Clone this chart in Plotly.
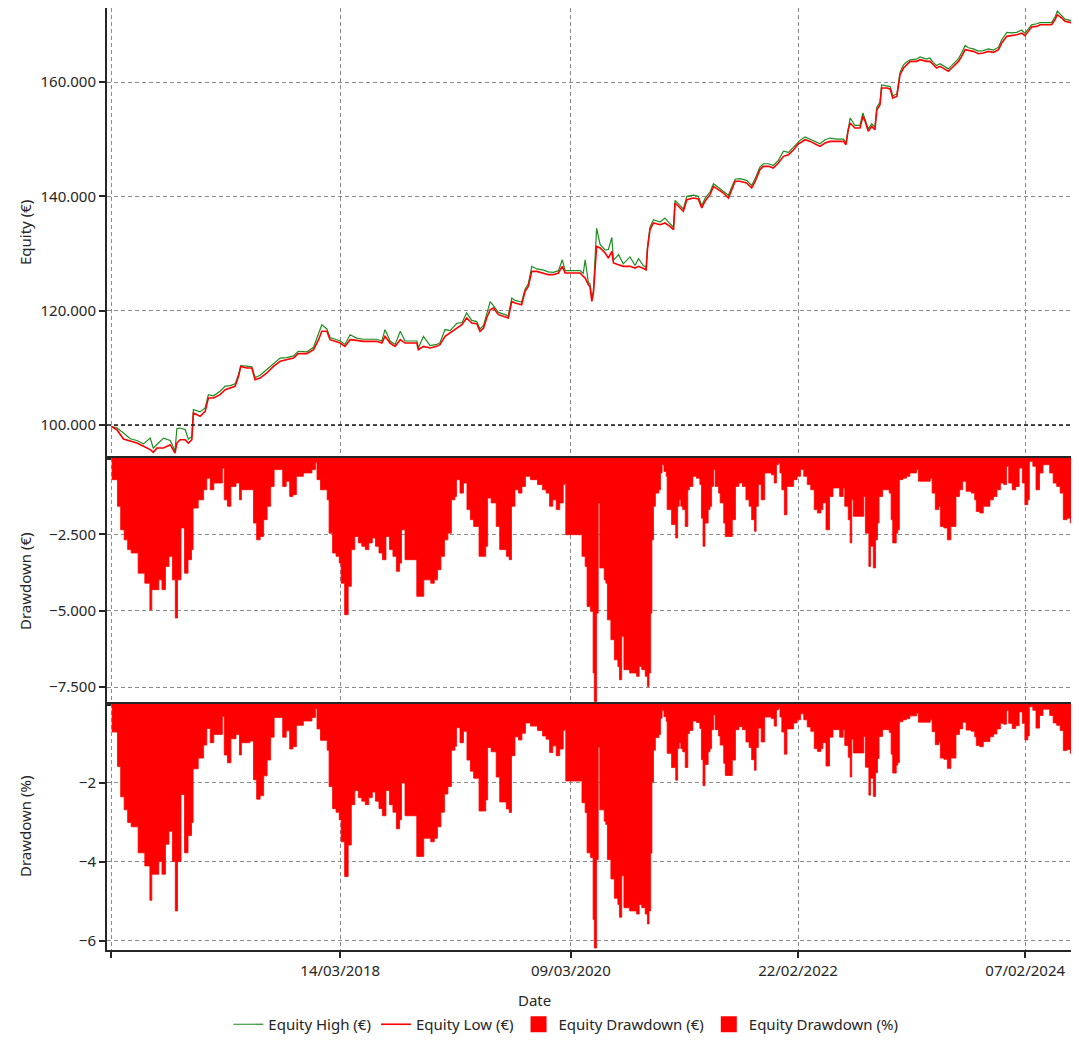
import pandas as pd
import plotly.graph_objects as go
from plotly.subplots import make_subplots

# data (days counted from the first day of the backtest)
start = pd.Timestamp("2016-03-23")

eq_days = [0, 18, 39, 60, 81, 102, 123, 133, 144, 165,
           186, 201, 207, 217, 233, 243, 254, 259, 280, 296,
           306, 322, 343, 359, 375, 390, 401, 408, 427, 443,
           453, 469, 490, 511, 532, 553, 574, 589, 616, 637,
           653, 663, 679, 689, 705, 721, 736, 752, 773, 794,
           815, 836, 852, 862, 878, 894, 910, 925, 962, 967,
           983, 1004, 1025, 1035, 1051, 1067, 1088, 1104, 1119, 1135,
           1151, 1161, 1172, 1182, 1193, 1203, 1219, 1235, 1250, 1261,
           1271, 1292, 1303, 1313, 1324, 1340, 1361, 1376, 1392, 1408,
           1420, 1429, 1455, 1476, 1486, 1492, 1502, 1507, 1513, 1518,
           1528, 1539, 1555, 1565, 1576, 1581, 1597, 1612, 1633, 1649,
           1660, 1675, 1684, 1688, 1696, 1707, 1728, 1743, 1759, 1770,
           1775, 1791, 1801, 1812, 1833, 1848, 1859, 1869, 1885, 1896,
           1911, 1927, 1943, 1953, 1964, 1979, 2000, 2016, 2027, 2042,
           2053, 2069, 2084, 2100, 2116, 2132, 2148, 2163, 2168, 2184,
           2200, 2221, 2231, 2247, 2263, 2284, 2305, 2313, 2320, 2326,
           2341, 2357, 2366, 2373, 2383, 2394, 2404, 2410, 2420, 2425,
           2441, 2452, 2460, 2473, 2483, 2494, 2504, 2515, 2535, 2546,
           2567, 2577, 2588, 2598, 2609, 2625, 2635, 2646, 2656, 2667,
           2677, 2688, 2698, 2714, 2730, 2745, 2761, 2777, 2793, 2803,
           2819, 2834, 2850, 2866, 2876, 2887, 2897, 2913, 2924, 2945,
           2960, 2971, 2978, 2992, 3002, 3018, 3034]

equity_low = [99770, 99180, 97550, 97140, 96850, 96270, 95690, 95220, 95980, 95980,
              96560, 95100, 96850, 97430, 97430, 96850, 97430, 102100, 101520, 102390,
              104720, 104720, 105310, 106180, 106470, 106760, 108510, 110260, 109970, 109970,
              107930, 108220, 109100, 110260, 111140, 111430, 111720, 112480, 112480, 113180,
              114930, 116390, 116390, 114930, 114640, 114340, 113760, 114930, 114810, 114640,
              114640, 114640, 114340, 115510, 114340, 113760, 114930, 114340, 114340, 113180,
              113760, 113470, 113760, 114050, 115510, 116090, 116970, 117550, 118720, 117840,
              117730, 116390, 116970, 118720, 120170, 120470, 119300, 119010, 118720, 121630,
              121340, 121050, 123380, 124260, 126880, 126880, 126590, 126300, 126300, 126590,
              127760, 126590, 126590, 126590, 126010, 125710, 124550, 124260, 121630, 123090,
              131250, 130960, 130090, 129210, 130380, 128340, 128050, 127760, 127760, 127460,
              127760, 127460, 127170, 130670, 134170, 135340, 135040, 135340, 134750, 134170,
              138830, 137960, 137380, 139420, 139710, 139530, 137960, 139130, 140290, 141750,
              141170, 140580, 139710, 141170, 142630, 142630, 142330, 141460, 142630, 144670,
              145250, 145250, 144960, 145830, 147000, 147290, 148160, 149210, 149330, 149910,
              149620, 149040, 148750, 149330, 149620, 149620, 149620, 149040, 151660, 152830,
              151950, 151950, 154000, 153120, 151370, 152250, 151660, 155160, 156040, 158950,
              158950, 158780, 157200, 157490, 161280, 162450, 163030, 163610, 163610, 163910,
              163610, 163610, 163030, 162450, 162740, 162160, 161870, 162450, 163030, 163610,
              164490, 165660, 165540, 165360, 164960, 165070, 165360, 165190, 165660, 166820,
              167990, 168100, 168280, 168570, 168100, 168860, 169620, 169740, 170030, 170030,
              170030, 170900, 171780, 171200, 170620, 170440, 170030]

equity_high = [99770, 99500, 98600, 97600, 97300, 96700, 97700, 95900, 96600, 97700,
               97300, 95500, 99400, 99470, 99200, 97500, 98000, 102700, 102300, 103000,
               105300, 105100, 105900, 106800, 106900, 107200, 108800, 110400, 110300, 110200,
               108300, 108700, 109700, 110700, 111700, 111800, 112100, 112900, 112800, 113600,
               116100, 117550, 116800, 115300, 115000, 114700, 114100, 115800, 115200, 115000,
               115000, 115000, 114700, 116700, 114700, 114100, 116400, 114700, 114700, 113500,
               115500, 113900, 114100, 114400, 116700, 116500, 117800, 117900, 119600, 118300,
               118100, 116800, 117400, 119200, 121600, 120900, 119700, 119400, 119100, 122200,
               121800, 121500, 123800, 124700, 127750, 127300, 127100, 126800, 126700, 127000,
               128900, 127000, 127000, 127000, 126500, 128900, 125000, 124700, 122100, 123500,
               134400, 131600, 130600, 130700, 132800, 128800, 129800, 128200, 129400, 127900,
               129100, 127900, 127600, 131100, 134600, 135900, 135500, 136200, 135200, 134600,
               139300, 138400, 137800, 140000, 140200, 140000, 138400, 139600, 140800, 142200,
               141600, 141000, 140200, 141600, 143000, 143100, 142800, 141900, 143100, 145100,
               145700, 145700, 145400, 146300, 147900, 147700, 148600, 149600, 149800, 150400,
               150000, 149500, 149200, 149900, 150200, 150000, 150000, 149400, 152100, 153700,
               152400, 152400, 154600, 153500, 151800, 152700, 152100, 155600, 156500, 159500,
               159400, 159200, 157600, 157900, 161700, 163000, 163500, 163900, 164000, 164400,
               164000, 164200, 163400, 162900, 163200, 162600, 162300, 162900, 163500, 164100,
               165100, 166400, 166000, 165800, 165400, 165500, 165800, 165600, 166100, 167400,
               168700, 168600, 168700, 169100, 168500, 169300, 170000, 170200, 170400, 170400,
               170400, 171400, 172400, 171600, 171000, 170800, 170300]

dd_days = [0, 3, 20, 30, 41, 52, 63, 85, 106, 122,
           128, 150, 160, 171, 182, 193, 202, 209, 220, 231,
           242, 253, 258, 274, 291, 301, 312, 323, 339, 350,
           356, 366, 377, 393, 404, 410, 437, 448, 458, 469,
           480, 491, 502, 513, 534, 540, 551, 562, 572, 583,
           605, 621, 632, 643, 648, 659, 680, 686, 697, 708,
           718, 724, 735, 746, 756, 767, 778, 789, 800, 811,
           822, 832, 843, 854, 865, 876, 887, 898, 908, 914,
           925, 952, 962, 973, 984, 1006, 1017, 1027, 1038, 1049,
           1060, 1071, 1082, 1087, 1098, 1109, 1120, 1131, 1141, 1158,
           1179, 1185, 1196, 1212, 1223, 1244, 1253, 1260, 1271, 1282,
           1293, 1304, 1320, 1342, 1358, 1369, 1380, 1390, 1401, 1412,
           1423, 1428, 1431, 1478, 1482, 1492, 1498, 1509, 1517, 1521,
           1528, 1533, 1538, 1546, 1552, 1557, 1562, 1573, 1584, 1595,
           1600, 1607, 1614, 1632, 1654, 1662, 1670, 1681, 1688, 1693,
           1698, 1702, 1707, 1713, 1724, 1729, 1734, 1740, 1747, 1750,
           1758, 1764, 1772, 1777, 1783, 1788, 1793, 1799, 1807, 1815,
           1820, 1831, 1842, 1853, 1858, 1863, 1869, 1879, 1885, 1890,
           1896, 1901, 1912, 1917, 1928, 1933, 1944, 1955, 1965, 1976,
           1987, 1998, 2008, 2016, 2025, 2030, 2037, 2046, 2057, 2078,
           2087, 2094, 2100, 2105, 2111, 2119, 2127, 2148, 2159, 2170,
           2180, 2191, 2202, 2213, 2223, 2234, 2240, 2250, 2261, 2272,
           2283, 2293, 2304, 2309, 2320, 2326, 2331, 2336, 2363, 2369,
           2374, 2385, 2390, 2399, 2406, 2412, 2417, 2428, 2449, 2455,
           2460, 2471, 2476, 2481, 2492, 2503, 2514, 2524, 2535, 2541,
           2578, 2584, 2594, 2605, 2610, 2621, 2632, 2643, 2653, 2659,
           2670, 2680, 2691, 2707, 2718, 2723, 2734, 2745, 2756, 2766,
           2777, 2788, 2799, 2809, 2818, 2825, 2836, 2847, 2858, 2868,
           2876, 2885, 2890, 2901, 2911, 2922, 2933, 2944, 2954, 2965,
           2976, 2987, 2997, 3008, 3019, 3030]

drawdown_eur = [0, -710, -1580, -2350, -2680, -3000, -3110, -3770, -4100, -4970,
                -4310, -3990, -4310, -3550, -3220, -3990, -5240, -3990, -2290, -3770,
                -3330, -3000, -1640, -1370, -1040, -660, -1040, -820, -820, -330,
                -1370, -1580, -930, -820, -1370, -1040, -1040, -2130, -2680, -2570,
                -2020, -1580, -930, -380, -380, -930, -760, -1260, -1200, -600,
                -490, -490, -380, -140, -710, -1040, -1370, -2460, -3110, -3220,
                -3440, -4100, -5130, -4200, -3000, -2570, -2780, -2890, -3000, -2780,
                -2620, -2890, -3110, -3330, -2570, -3000, -3220, -3710, -3440, -2350,
                -3330, -3330, -4530, -4530, -3990, -4100, -3990, -3660, -3220, -2680,
                -2460, -1370, -1260, -710, -1150, -820, -1690, -2020, -2240, -3220,
                -2890, -1310, -1470, -2240, -3000, -3220, -3330, -1580, -1040, -1150,
                -930, -600, -710, -870, -1040, -1150, -1580, -1370, -1690, -1470,
                -870, -820, -2510, -2510, -3220, -3550, -4860, -5020, -7040, -7970,
                -5080, -1470, -3600, -3600, -3990, -4100, -5300, -5950, -6610, -6830,
                -7260, -5840, -6930, -7040, -7150, -6830, -6930, -7150, -7480, -7040,
                -5080, -2680, -1580, -1150, -1040, -490, -220, -440, -600, -1690,
                -1690, -2180, -2180, -2620, -1580, -1370, -1580, -1690, -2240, -1040,
                -930, -600, -660, -870, -1970, -2890, -2130, -1690, -1580, -930,
                -380, -930, -1150, -1470, -2130, -2570, -2570, -2020, -930, -820,
                -930, -1370, -1580, -2020, -2400, -1580, -870, -1370, -490, -550,
                -820, -220, -160, -490, -1040, -1860, -930, -710, -600, -380,
                -600, -870, -1040, -1690, -1800, -1690, -1470, -2350, -1260, -980,
                -980, -1260, -980, -1580, -2020, -2780, -1370, -1910, -1910, -1260,
                -2460, -3550, -2890, -3600, -2680, -2130, -1260, -1040, -1150, -2020,
                -2780, -2460, -2350, -710, -660, -600, -490, -490, -380, -760,
                -660, -1150, -1690, -1580, -2240, -2290, -2680, -2240, -2240, -1260,
                -1040, -760, -1090, -1150, -1370, -1750, -1800, -1580, -1580, -1370,
                -1260, -1040, -820, -870, -270, -820, -1040, -930, -330, -820,
                -1530, -1370, -110, -270, -1040, -490, -220, -220, -490, -820,
                -930, -1150, -2020, -1970, -2130, -2620]

drawdown_pct = [0, -0.71, -1.58, -2.35, -2.68, -3.00, -3.11, -3.77, -4.10, -4.97,
                -4.31, -3.99, -4.31, -3.55, -3.22, -3.99, -5.24, -3.99, -2.29, -3.77,
                -3.33, -3.00, -1.64, -1.37, -1.04, -0.62, -0.98, -0.77, -0.77, -0.31,
                -1.29, -1.49, -0.88, -0.77, -1.29, -0.98, -0.94, -1.92, -2.41, -2.32,
                -1.82, -1.42, -0.84, -0.34, -0.34, -0.84, -0.68, -1.14, -1.08, -0.54,
                -0.43, -0.43, -0.34, -0.12, -0.63, -0.92, -1.17, -2.09, -2.65, -2.74,
                -2.93, -3.49, -4.37, -3.57, -2.55, -2.19, -2.37, -2.46, -2.55, -2.37,
                -2.23, -2.46, -2.65, -2.83, -2.19, -2.55, -2.74, -3.16, -2.93, -2.00,
                -2.83, -2.83, -3.86, -3.86, -3.40, -3.49, -3.40, -3.11, -2.74, -2.28,
                -2.09, -1.17, -1.07, -0.60, -0.98, -0.69, -1.42, -1.70, -1.88, -2.71,
                -2.43, -1.10, -1.21, -1.85, -2.48, -2.66, -2.75, -1.31, -0.83, -0.91,
                -0.74, -0.48, -0.56, -0.67, -0.81, -0.89, -1.23, -1.06, -1.31, -1.14,
                -0.67, -0.64, -1.95, -1.95, -2.50, -2.75, -3.77, -3.89, -5.46, -6.18,
                -3.94, -1.09, -2.68, -2.68, -2.97, -3.05, -3.94, -4.43, -4.92, -5.08,
                -5.40, -4.35, -5.16, -5.24, -5.32, -5.08, -5.16, -5.32, -5.57, -5.24,
                -3.78, -1.98, -1.17, -0.85, -0.77, -0.36, -0.16, -0.32, -0.44, -1.25,
                -1.25, -1.61, -1.61, -1.93, -1.13, -0.98, -1.13, -1.21, -1.61, -0.75,
                -0.67, -0.43, -0.47, -0.62, -1.41, -2.07, -1.53, -1.21, -1.13, -0.65,
                -0.27, -0.65, -0.81, -1.04, -1.50, -1.81, -1.81, -1.42, -0.65, -0.57,
                -0.65, -0.96, -1.10, -1.41, -1.68, -1.10, -0.61, -0.96, -0.33, -0.37,
                -0.56, -0.15, -0.11, -0.33, -0.71, -1.27, -0.63, -0.48, -0.40, -0.25,
                -0.40, -0.58, -0.69, -1.13, -1.20, -1.13, -0.98, -1.57, -0.84, -0.65,
                -0.65, -0.84, -0.65, -1.05, -1.35, -1.85, -0.89, -1.24, -1.24, -0.82,
                -1.60, -2.31, -1.88, -2.34, -1.74, -1.38, -0.82, -0.65, -0.72, -1.27,
                -1.75, -1.55, -1.48, -0.45, -0.40, -0.37, -0.30, -0.30, -0.23, -0.46,
                -0.40, -0.70, -1.03, -0.96, -1.37, -1.40, -1.63, -1.37, -1.37, -0.77,
                -0.63, -0.46, -0.66, -0.69, -0.83, -1.05, -1.08, -0.95, -0.95, -0.83,
                -0.76, -0.63, -0.49, -0.51, -0.16, -0.49, -0.62, -0.55, -0.20, -0.49,
                -0.91, -0.81, -0.07, -0.16, -0.61, -0.29, -0.13, -0.13, -0.29, -0.48,
                -0.54, -0.67, -1.18, -1.15, -1.25, -1.53]

tick_dates = ["2016-03-23", "2018-03-14", "2020-03-09", "2022-02-22", "2024-02-07"]
tick_text = ["", "14/03/2018", "09/03/2020", "22/02/2022", "07/02/2024"]

eq_dates = start + pd.to_timedelta(eq_days, unit="D")
dd_dates = start + pd.to_timedelta(dd_days, unit="D")

font = "Noto Sans"
axis_col = "#262626"
grid_col = "#8a8a8a"
red = "#ff0000"

fig = make_subplots(rows=3, cols=1, shared_xaxes=True, vertical_spacing=0,
                    row_heights=[450, 246, 246])

# graficas
fig.add_trace(go.Scatter(x=eq_dates, y=equity_high, name="Equity High (€)", mode="lines",
                         line=dict(color="#1e8c1e", width=1.2)), row=1, col=1)
fig.add_trace(go.Scatter(x=eq_dates, y=equity_low, name="Equity Low (€)", mode="lines",
                         line=dict(color=red, width=1.6)), row=1, col=1)
fig.add_trace(go.Scatter(x=dd_dates, y=drawdown_eur, name="Equity Drawdown (€)", mode="lines",
                         fill="tozeroy", fillcolor=red, showlegend=False,
                         line=dict(color=red, width=0.8, shape="hv")), row=2, col=1)
fig.add_trace(go.Scatter(x=dd_dates, y=drawdown_pct, name="Equity Drawdown (%)", mode="lines",
                         fill="tozeroy", fillcolor=red, showlegend=False,
                         line=dict(color=red, width=0.8, shape="hv")), row=3, col=1)

# leyenda con cuadrados rojos para los drawdowns
for nm in ["Equity Drawdown (€)", "Equity Drawdown (%)"]:
    fig.add_trace(go.Scatter(x=[None], y=[None], name=nm, mode="markers",
                             marker=dict(symbol="square", size=20, color=red)), row=3, col=1)

# linea del capital inicial
fig.add_hline(y=100000, line=dict(color="#1a1a1a", dash="4px,3px", width=1.3), row=1, col=1)

# eje x
fig.update_xaxes(type="date", range=["2016-03-10", "2024-07-19"],
                 tickvals=tick_dates, ticktext=tick_text,
                 showgrid=True, gridcolor=grid_col, griddash="4px,3px", gridwidth=1,
                 showline=True, linecolor=axis_col, linewidth=2,
                 zeroline=False, ticks="", showticklabels=False)
fig.update_xaxes(mirror=True, row=2, col=1)
fig.update_xaxes(mirror=True, ticks="outside", ticklen=6, tickcolor=axis_col, tickwidth=1.5,
                 showticklabels=True, tickfont=dict(size=15, color=axis_col), row=3, col=1)

# eje y
fig.update_yaxes(showgrid=True, gridcolor=grid_col, griddash="4px,3px", gridwidth=1,
                 showline=True, linecolor=axis_col, linewidth=2, zeroline=False,
                 ticks="outside", ticklen=6, tickcolor=axis_col, tickwidth=1.5,
                 tickfont=dict(size=15, color=axis_col))
fig.update_yaxes(range=[94230, 172950], tickvals=[100000, 120000, 140000, 160000],
                 tickformat=",d", row=1, col=1)
fig.update_yaxes(range=[-8055, 0], tickvals=[-2500, -5000, -7500],
                 tickformat=",d", row=2, col=1)
fig.update_yaxes(range=[-6.23, 0], tickvals=[-2, -4, -6], row=3, col=1)

# titulos de los ejes
y_titles = ["Equity (€)", "Drawdown (€)", "Drawdown (%)"]
for i, t in enumerate(y_titles):
    ref = "y domain" if i == 0 else "y%d domain" % (i + 1)
    fig.add_annotation(text=t, xref="paper", x=-0.0845, yref=ref, y=0.5,
                       textangle=-90, showarrow=False, xanchor="center", yanchor="middle",
                       font=dict(size=15, color=axis_col))
fig.add_annotation(text="Date", xref="paper", x=0.441, yref="paper", y=-0.053,
                   showarrow=False, xanchor="center", yanchor="middle",
                   font=dict(size=15, color=axis_col))

# la pagina tiene 8px de margen, se compensa aqui
fig.update_layout(width=1071, height=1033, separators=",.",
                  margin=dict(l=99, r=2, t=0, b=91),
                  plot_bgcolor="white", paper_bgcolor="white",
                  font=dict(family=font, size=15, color=axis_col),
                  legend=dict(orientation="h", x=0.473, xanchor="center",
                              y=-0.0796, yanchor="middle", font=dict(size=15),
                              itemwidth=30, tracegroupgap=0),
                  showlegend=True)

fig.write_html("out.html")
